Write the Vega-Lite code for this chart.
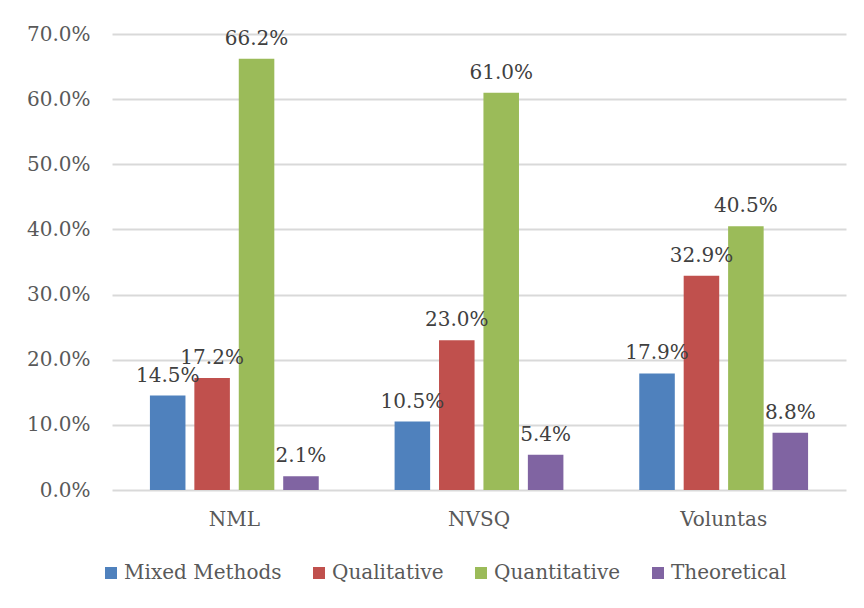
{
  "$schema": "https://vega.github.io/schema/vega-lite/v6.json",
  "width": 734,
  "height": 456,
  "autosize": "none",
  "padding": {"left": 112, "top": 34, "right": 18, "bottom": 118},
  "background": "white",
  "data": {
    "values": [
      {"journal": "NML", "type": "Mixed Methods", "share": 0.145},
      {"journal": "NML", "type": "Qualitative", "share": 0.172},
      {"journal": "NML", "type": "Quantitative", "share": 0.662},
      {"journal": "NML", "type": "Theoretical", "share": 0.021},
      {"journal": "NVSQ", "type": "Mixed Methods", "share": 0.105},
      {"journal": "NVSQ", "type": "Qualitative", "share": 0.230},
      {"journal": "NVSQ", "type": "Quantitative", "share": 0.610},
      {"journal": "NVSQ", "type": "Theoretical", "share": 0.054},
      {"journal": "Voluntas", "type": "Mixed Methods", "share": 0.179},
      {"journal": "Voluntas", "type": "Qualitative", "share": 0.329},
      {"journal": "Voluntas", "type": "Quantitative", "share": 0.405},
      {"journal": "Voluntas", "type": "Theoretical", "share": 0.088}
    ]
  },
  "encoding": {
    "x": {
      "field": "journal",
      "type": "nominal",
      "sort": ["NML", "NVSQ", "Voluntas"],
      "scale": {"paddingInner": 0.31, "paddingOuter": 0.155},
      "axis": {
        "title": null,
        "labelAngle": 0,
        "ticks": false,
        "domain": false,
        "labelPadding": 19,
        "labelFont": "DejaVu Serif",
        "labelFontSize": 20,
        "labelColor": "#595959"
      }
    },
    "xOffset": {
      "field": "type",
      "type": "nominal",
      "sort": ["Mixed Methods", "Qualitative", "Quantitative", "Theoretical"],
      "scale": {"paddingInner": 0.2, "paddingOuter": 0}
    },
    "y": {
      "field": "share",
      "type": "quantitative",
      "scale": {"domain": [0, 0.7], "nice": false},
      "axis": {
        "title": null,
        "values": [0, 0.1, 0.2, 0.3, 0.4, 0.5, 0.6, 0.7],
        "format": ".1%",
        "ticks": false,
        "domain": false,
        "gridColor": "#d9d9d9",
        "gridWidth": 2,
        "labelPadding": 22,
        "labelFont": "DejaVu Serif",
        "labelFontSize": 20,
        "labelColor": "#595959"
      }
    }
  },
  "layer": [
    {
      "mark": {"type": "bar"},
      "encoding": {
        "color": {
          "field": "type",
          "type": "nominal",
          "sort": ["Mixed Methods", "Qualitative", "Quantitative", "Theoretical"],
          "scale": {
            "domain": ["Mixed Methods", "Qualitative", "Quantitative", "Theoretical"],
            "range": ["#4f81bd", "#c0504d", "#9bbb59", "#8064a2"]
          },
          "legend": {
            "title": null,
            "orient": "none",
            "direction": "horizontal",
            "legendX": -11,
            "legendY": 529,
            "symbolType": "square",
            "symbolSize": 144,
            "symbolStrokeWidth": 0,
            "labelFont": "DejaVu Serif",
            "labelFontSize": 20,
            "labelColor": "#595959",
            "labelOffset": 3,
            "columnPadding": 27
          }
        }
      }
    },
    {
      "mark": {
        "type": "text",
        "baseline": "alphabetic",
        "dy": -14,
        "font": "DejaVu Serif",
        "fontSize": 20,
        "color": "#404040"
      },
      "encoding": {
        "text": {"field": "share", "type": "quantitative", "format": ".1%"}
      }
    }
  ],
  "config": {
    "view": {"stroke": null}
  }
}
